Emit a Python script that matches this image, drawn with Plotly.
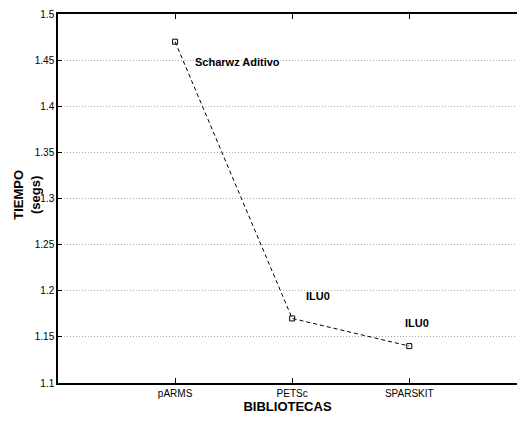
import plotly.graph_objects as go

categories = ["pARMS", "PETSc", "SPARSKIT"]
tiempos = [1.47, 1.17, 1.14]
labels = ["Scharwz Aditivo", "ILU0", "ILU0"]
label_x = [1.15, 2.1, 2.95]
label_y = [1.448, 1.194, 1.165]
y_ticks = [1.1, 1.15, 1.2, 1.25, 1.3, 1.35, 1.4, 1.45, 1.5]

xpos = list(range(1, len(categories) + 1))
FONT = "Liberation Sans Narrow, Arial Narrow, Liberation Sans, Arial, sans-serif"

fig = go.Figure()
fig.add_trace(go.Scatter(
    x=xpos, y=tiempos, mode="lines+markers",
    line=dict(color="black", width=1, dash="4px,3px"),
    marker=dict(symbol="square-open", size=5, color="black", line=dict(width=1)),
    showlegend=False,
))

for lx, ly, t in zip(label_x, label_y, labels):
    fig.add_annotation(x=lx, y=ly, text="<b>" + t + "</b>", showarrow=False,
                       xanchor="left", yanchor="middle",
                       font=dict(family=FONT, size=11, color="black"))

# y-axis title placed as annotation to match position
fig.add_annotation(x=0, xref="paper", yref="paper", xshift=-31, y=0.51,
                   text="<b>TIEMPO<br>(segs)</b>",
                   textangle=-90, showarrow=False, xanchor="center", yanchor="middle",
                   font=dict(family="Liberation Sans, Arial, sans-serif", size=13, color="black"))

fig.update_layout(
    width=517, height=421,
    margin=dict(l=58, r=0, t=14, b=38),
    plot_bgcolor="white", paper_bgcolor="white",
    font=dict(family=FONT, size=10, color="black"),
    xaxis=dict(
        range=[0, 3.92], tickvals=xpos, ticktext=categories,
        showgrid=False, zeroline=False,
        showline=True, linecolor="black", linewidth=1.5, mirror="ticks",
        ticks="inside", ticklen=5, tickcolor="black",
        title=dict(text="<b>BIBLIOTECAS</b>", font=dict(family=FONT, size=13), standoff=3),
    ),
    yaxis=dict(
        range=[1.1, 1.5], tickvals=y_ticks, ticktext=[f"{v:g}" for v in y_ticks],
        showgrid=True, gridcolor="#aaaaaa", griddash="1px,2px", gridwidth=1,
        zeroline=False,
        showline=True, linecolor="black", linewidth=1.5, mirror=False,
        ticks="inside", ticklen=4, tickcolor="black",
    ),
)

fig.write_html("out.html")
